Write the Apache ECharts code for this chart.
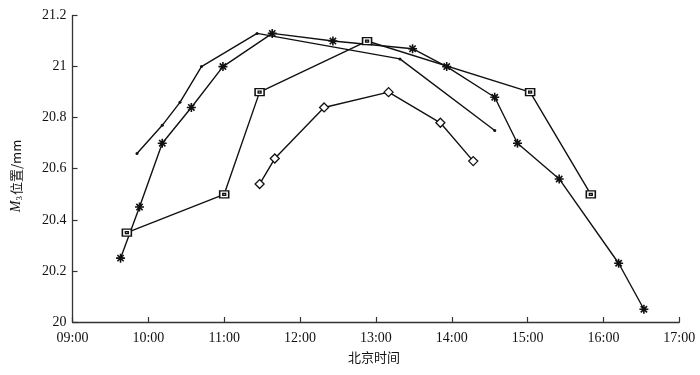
<!DOCTYPE html>
<html>
<head>
<meta charset="utf-8">
<script src="https://cdn.jsdelivr.net/npm/echarts@6/dist/echarts.min.js"></script>
<style>html,body{margin:0;padding:0;background:#fff}#c{width:700px;height:375px}</style>
</head>
<body>
<div id="c"></div>
<script>
// Data (time as HH:MM, value in mm)
var timesA = ["09:51","10:11","10:25","10:42","11:26","13:19","14:34"];
var valuesA = [20.66,20.77,20.86,21.00,21.13,21.03,20.75];

var timesB = ["09:38","09:53","10:11","10:34","10:59","11:38","12:26","13:29","13:56","14:34","14:52","15:25","16:12","16:32"];
var valuesB = [20.25,20.45,20.70,20.84,21.00,21.13,21.10,21.07,21.00,20.88,20.70,20.56,20.23,20.05];

var timesC = ["09:43","11:00","11:28","12:53","15:02","15:50"];
var valuesC = [20.35,20.50,20.90,21.10,20.90,20.50];

var timesD = ["11:28","11:40","12:19","13:10","13:51","14:17"];
var valuesD = [20.54,20.64,20.84,20.90,20.78,20.63];

var xTickLabels = ["09:00","10:00","11:00","12:00","13:00","14:00","15:00","16:00","17:00"];

function toH(s){var p=s.split(":");return +p[0]+ (+p[1])/60;}
function pairs(ts,vs){return ts.map(function(t,i){return [toH(t),vs[i]];});}

var serif = '"Liberation Serif","DejaVu Serif",serif';
var black = '#111';
var asterisk = 'path://M5,0L5,10M0,5L10,5M1.5,1.5L8.5,8.5M1.5,8.5L8.5,1.5';
var squareDot = 'path://M0,0L10,0L10,7L0,7Z M3.5,2.5L6.5,2.5L6.5,4.5L3.5,4.5Z';

var chart = echarts.init(document.getElementById('c'), null, {renderer:'canvas'});
chart.setOption({
  animation:false,
  backgroundColor:'#fff',
  grid:{left:72.5,right:20.7,top:15.5,bottom:53,containLabel:false,outerBoundsMode:'none'},
  xAxis:{
    type:'value',min:9,max:17,interval:1,
    axisLine:{lineStyle:{color:'#333',width:1.3}},
    axisTick:{inside:true,length:5,lineStyle:{color:'#333',width:1.2}},
    axisLabel:{color:'#111',fontFamily:serif,fontSize:14,margin:9,
      formatter:function(v){return xTickLabels[Math.round(v-9)];}},
    splitLine:{show:false}
  },
  yAxis:{
    type:'value',min:20,max:21.2,interval:0.2,
    axisLine:{show:true,lineStyle:{color:'#333',width:1.3}},
    axisTick:{show:true,inside:true,length:5,lineStyle:{color:'#333',width:1.2}},
    axisLabel:{color:'#111',fontFamily:serif,fontSize:14,margin:6,
      formatter:function(v){return String(parseFloat(v.toFixed(1)));}},
    splitLine:{show:false}
  },
  graphic:[
    {type:'text',x:16,y:176,rotation:Math.PI/2,
      style:{text:'{i|M}{s|3}{n|位置/mm}',align:'center',verticalAlign:'middle',
        rich:{
          i:{fontFamily:serif,fontStyle:'italic',fontSize:14,fill:'#111'},
          s:{fontFamily:serif,fontSize:9,fill:'#111',padding:[7,1,0,0]},
          n:{fontFamily:'"Noto Sans CJK SC",'+serif,fontSize:13,fill:'#111'}
        }}},
    {type:'text',x:374,y:357,
      style:{text:'北京时间',align:'center',verticalAlign:'middle',
        font:'13px "Noto Sans CJK SC", sans-serif',fill:'#111'}}
  ],
  series:[
    {type:'line',data:pairs(timesA,valuesA),symbol:'circle',symbolSize:3,
      lineStyle:{color:black,width:1.4},itemStyle:{color:black}},
    {type:'line',data:pairs(timesB,valuesB),symbol:asterisk,symbolSize:9,
      lineStyle:{color:black,width:1.4},itemStyle:{color:black,borderColor:black,borderWidth:1.6}},
    {type:'line',data:pairs(timesC,valuesC),symbol:squareDot,symbolSize:[9,7],symbolKeepAspect:false,
      lineStyle:{color:black,width:1.4},itemStyle:{color:'#fff',borderColor:black,borderWidth:1.4}},
    {type:'line',data:pairs(timesD,valuesD),symbol:'diamond',symbolSize:9,
      lineStyle:{color:black,width:1.4},itemStyle:{color:'#fff',borderColor:black,borderWidth:1.3}}
  ]
});
</script>
</body>
</html>
